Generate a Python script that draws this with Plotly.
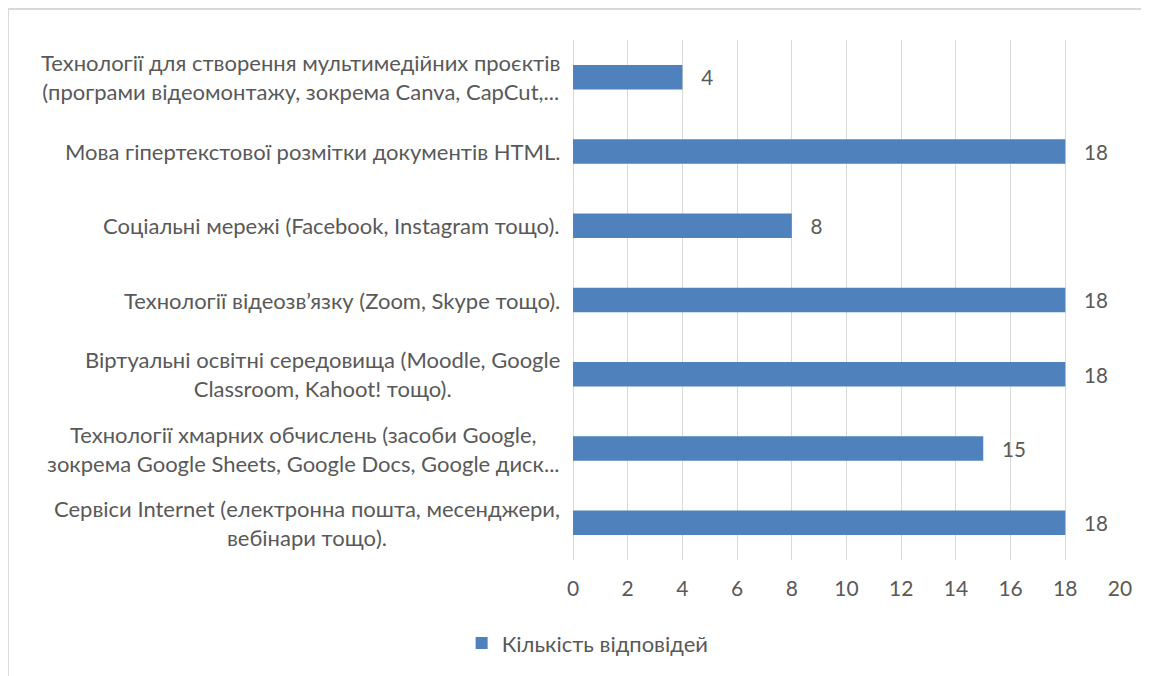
import plotly.graph_objects as go

categories = [
    "Технології для створення мультимедійних проєктів<br>(програми відеомонтажу, зокрема Canva, CapCut,...",
    "Мова гіпертекстової розмітки документів HTML.",
    "Соціальні мережі (Facebook, Instagram тощо).",
    "Технології відеозв’язку (Zoom, Skype тощо).",
    "Віртуальні освітні середовища (Moodle, Google<br>Classroom, Kahoot! тощо).",
    "Технології хмарних обчислень (засоби Google,<br>зокрема Google Sheets, Google Docs, Google диск...",
    "Сервіси Internet (електронна пошта, месенджери,<br>вебінари тощо).",
]
values = [4, 18, 8, 18, 18, 15, 18]
series_name = "Кількість відповідей"
x_ticks = [0, 2, 4, 6, 8, 10, 12, 14, 16, 18, 20]

FONT = "Lato"
GREY = "#595959"
FS = 21

fig = go.Figure()
fig.add_trace(go.Bar(
    y=categories, x=values, orientation="h",
    name=series_name,
    marker=dict(color="#4F81BD", line=dict(width=0)),
    width=0.33,
    text=[f"   {v}" for v in values],
    textposition="outside",
    textfont=dict(family=FONT, size=FS, color=GREY),
    cliponaxis=False,
))

annotations = []
for c in categories:
    annotations.append(dict(
        xref="paper", yref="y", x=-0.02, y=c, text=c,
        xanchor="right", yanchor="middle", align="center",
        showarrow=False, font=dict(family=FONT, size=22, color=GREY),
    ))

fig.update_layout(
    width=1141, height=668,
    margin=dict(l=565, r=29, t=32, b=116),
    paper_bgcolor="white", plot_bgcolor="white",
    font=dict(family=FONT, size=FS, color=GREY),
    bargap=0.67,
    showlegend=True,
    legend=dict(
        orientation="h", xref="container", yref="container",
        x=0.508, xanchor="center", y=0.049, yanchor="middle",
        font=dict(family=FONT, size=22, color=GREY),
        itemwidth=30,
    ),
    annotations=annotations,
    shapes=[
        dict(type="line", xref="paper", yref="paper", x0=-1.033, x1=1.1, y0=1.0596, y1=1.0596,
             line=dict(color="#d9d9d9", width=2)),
        dict(type="line", xref="paper", yref="paper", x0=-1.033, x1=-1.033, y0=1.0596, y1=-0.3,
             line=dict(color="#d9d9d9", width=2)),
    ],
)
fig.update_xaxes(
    range=[0, 20], tickvals=x_ticks, showgrid=True, gridcolor="#d9d9d9", gridwidth=1,
    zeroline=True, zerolinecolor="#d9d9d9", zerolinewidth=1,
    showline=False, ticks="", ticklabelstandoff=14,
    tickfont=dict(family=FONT, size=FS, color=GREY),
)
fig.update_yaxes(
    categoryorder="array", categoryarray=categories[::-1],
    showticklabels=False, showgrid=False, zeroline=False, showline=False, ticks="",
)

fig.write_html("out.html")
